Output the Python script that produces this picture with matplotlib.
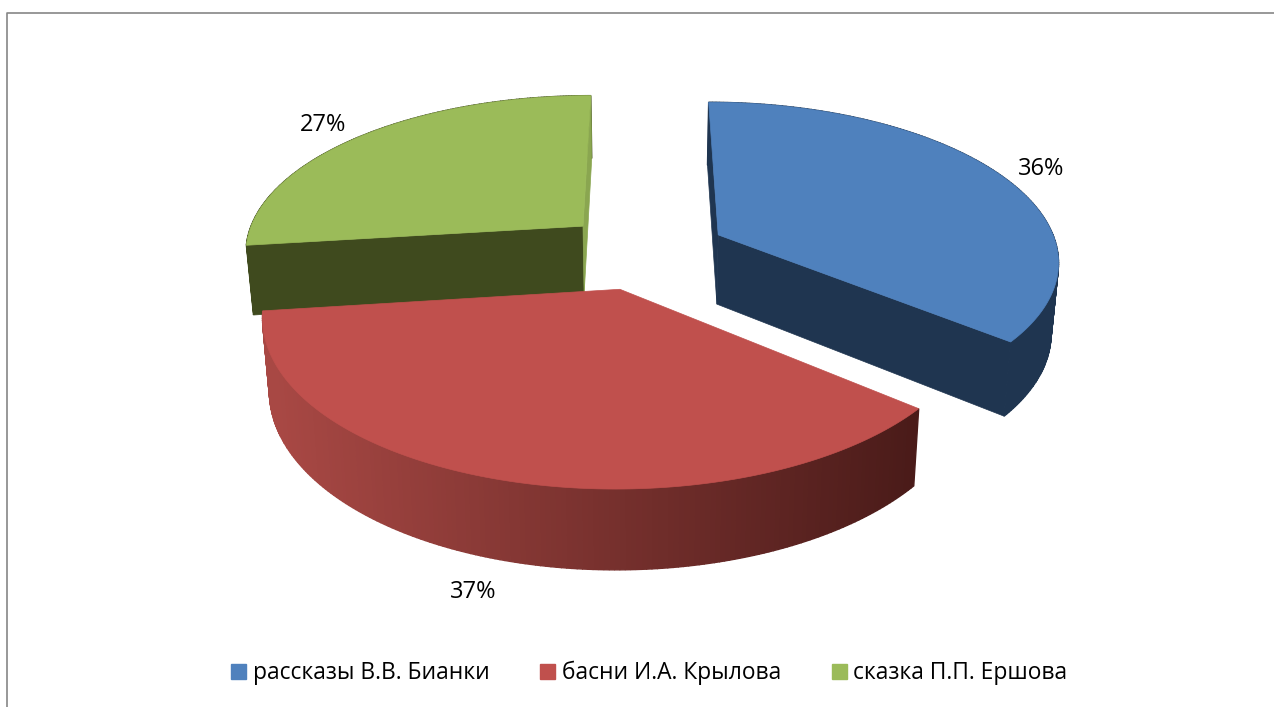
#Import necessary package
import numpy as np
import matplotlib
matplotlib.use("Agg")
import matplotlib.pyplot as plt
from matplotlib.patches import Polygon, Patch
from matplotlib.colors import to_rgb

#The data of the chart
categories = ["рассказы В.В. Бианки", "басни И.А. Крылова", "сказка П.П. Ершова"]
shares = [36, 37, 27]
share_labels = ["36%", "37%", "27%"]

#Colours of each slice: top, outer wall, flat faces (start, end)
top_colors = ["#4f81bd", "#c0504d", "#9bbb59"]
side_colors = ["#1f3550", "#a84844", "#3f4a1e"]
face_colors = [("#1f3550", "#1f3550"), None, ("#3f4a1e", "#8aa650")]

#Layout of the pie in pixels
xc, yc = 644, 251
a, b = 340, 157
persp = 0.15
explode = 0.245
depth = 70


#Function 1: project points of the disc plane to the picture
def project(x, y, bottom=False):
    x = np.asarray(x, dtype=float)
    y = np.asarray(y, dtype=float)
    w = 1 + persp * y
    sx = xc + a * x / w
    sy = yc - b * y / w
    if bottom:
        sx = xc + (sx - xc) * 0.982
        sy = sy + depth / w ** 0.7
    return sx, sy


#Function 2: the points of one slice in the plane
def slice_points(start, end):
    mid = (start + end) / 2
    ox = explode * np.sin(mid)
    oy = explode * np.cos(mid)
    ang = np.linspace(start, end, 180)
    return ox, oy, ox + np.sin(ang), oy + np.cos(ang)


#Function 3: draw one slice
def draw_slice(ax, start, end, i, shaded=False):
    ox, oy, xs, ys = slice_points(start, end)

    #The outer wall, piece by piece
    tx, ty = project(xs, ys)
    bx, by = project(xs, ys, bottom=True)
    for k in range(len(xs) - 1):
        color = side_colors[i]
        if shaded:
            #The red wall goes darker to the right
            t = tx[k] / 2 + tx[k + 1] / 2
            t = np.clip((t - 275) / (915 - 275), 0, 1)
            color = tuple((1 - t) * c0 + t * c1 for c0, c1 in
                          zip(to_rgb("#a84844"), to_rgb("#4a1b19")))
        pts = [(tx[k], ty[k]), (tx[k + 1], ty[k + 1]), (bx[k + 1], by[k + 1]), (bx[k], by[k])]
        ax.add_patch(Polygon(pts, facecolor=color, edgecolor=color, lw=1.0))

    #The flat faces from the centre to both ends (the red ones are hidden)
    if face_colors[i] is not None:
        for n, k in enumerate([0, -1]):
            top_x, top_y = project([ox, xs[k]], [oy, ys[k]])
            low_x, low_y = project([xs[k], ox], [ys[k], oy], bottom=True)
            pts = np.column_stack([np.r_[top_x, low_x], np.r_[top_y, low_y]])
            ax.add_patch(Polygon(pts, color=face_colors[i][n], lw=0.5))

    #The top of the slice
    cx, cy = project(ox, oy)
    pts = np.column_stack([np.r_[cx, tx], np.r_[cy, ty]])
    ax.add_patch(Polygon(pts, color=top_colors[i], lw=0.5))


#The main part
fig = plt.figure(figsize=(12.74, 7.07), dpi=100)
ax = fig.add_axes([0, 0, 1, 1])
ax.set_xlim(0, 1274)
ax.set_ylim(707, 0)
ax.axis("off")

#The frame only shows on the top and left
ax.plot([6.5, 6.5, 1274], [707, 12.5, 12.5], color="#868686", lw=1.2)

#Angles of the slices, clockwise from the top
edges = np.cumsum([0] + shares) / sum(shares) * 2 * np.pi

#Draw from back to front
draw_slice(ax, edges[2], edges[3], 2)
draw_slice(ax, edges[0], edges[1], 0)
draw_slice(ax, edges[1], edges[2], 1, shaded=True)

#The percent labels
label_pos = [(1041, 169), (473, 592), (323, 125)]
for text, pos in zip(share_labels, label_pos):
    ax.text(pos[0], pos[1], text, fontsize=17, family="Open Sans", ha="center", va="center", color="black")

#The legend
handles = [Patch(color=c) for c in top_colors]
ax.legend(handles, categories, loc="center", bbox_to_anchor=(649.5 / 1274, 1 - 673 / 707),
          ncol=3, frameon=False, prop={"family": "Open Sans", "size": 16.4},
          handlelength=0.65, handleheight=0.65, handletextpad=0.3, columnspacing=2.22)

plt.savefig("out.png", dpi=100)
plt.close()
